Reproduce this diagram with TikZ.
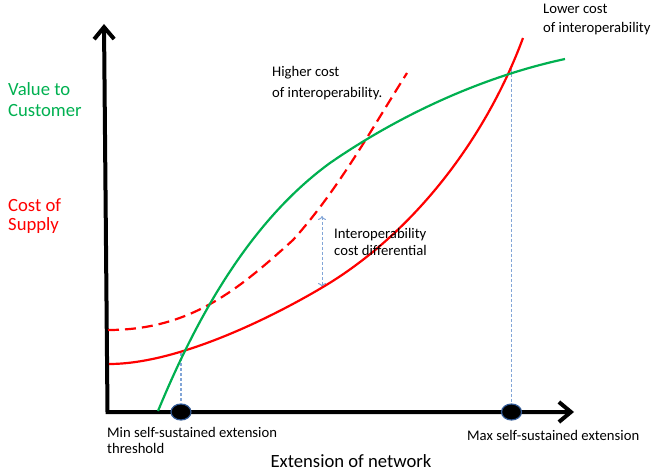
\documentclass[tikz,border=0pt]{standalone}
\usepackage{fontspec}
\setmainfont{Carlito}
\usepackage{tikz}
\definecolor{valgreen}{RGB}{0, 176, 80}
\definecolor{costred}{RGB}{255, 0, 0}
\definecolor{guideblue}{RGB}{130, 165, 215}
\definecolor{dotnavy}{RGB}{50, 90, 150}
\usetikzlibrary{positioning}
\usetikzlibrary{arrows.meta}
\usetikzlibrary{shapes.geometric}

\begin{document}
\begin{tikzpicture}[x=1pt, y=1pt]
[every node/.style={inner sep=0pt}]
\useasboundingbox (0pt, 0pt) rectangle (656pt, -473pt);
% axes
\coordinate (o) at (107.5pt, -412.0pt);
\coordinate (ytip) at (104.0pt, -24.0pt);
\coordinate (xtip) at (574.0pt, -412.0pt);
\draw [line width=4pt, color=black, line join=miter, {Straight Barb[length=12pt, width=20pt]}-{Straight Barb[length=12pt, width=20pt]}] (ytip) -- (o) -- (xtip);
% crossing points
\coordinate (minx) at (181.0pt, -353.0pt);
\coordinate (maxx) at (511.5pt, -69.0pt);
\coordinate (dtop) at (322.0pt, -216.0pt);
\coordinate (dbot) at (322.0pt, -287.0pt);
% guide lines
\node (mindot) [ellipse, minimum width=20pt, minimum height=16pt, inner sep=0pt, fill=black, line width=1.2pt, draw=dotnavy] at (minx |- o) {};
\node (maxdot) [ellipse, minimum width=20pt, minimum height=16pt, inner sep=0pt, fill=black, line width=1.2pt, draw=dotnavy] at (maxx |- o) {};
\draw [line width=1.3pt, color=guideblue, dash pattern=on 3pt off 2pt] (minx) to (mindot);
\draw [line width=1.3pt, color=guideblue, dash pattern=on 3pt off 2pt] (maxx) to (maxdot);
\draw [line width=1pt, color=guideblue, dash pattern=on 3pt off 2pt, {To[length=4pt, width=8pt]}-{To[length=4pt, width=8pt]}] (dtop) to (dbot);
% curves
\draw [line width=2.2pt, color=costred, dash pattern=on 11pt off 6pt] (108pt, -330pt) .. controls (190pt, -330pt) and (238pt, -290pt) .. (293pt, -240pt) .. controls (338pt, -190pt) and (371pt, -130pt) .. (407pt, -73pt);
\draw [line width=2.2pt, color=costred] (109pt, -364pt) .. controls (180pt, -364pt) and (276pt, -315pt) .. (323pt, -287pt) .. controls (414pt, -233pt) and (486pt, -138pt) .. (523pt, -38pt);
\draw [line width=2.2pt, color=valgreen] (158pt, -411pt) .. controls (196pt, -319pt) and (249pt, -222pt) .. (330pt, -163pt) .. controls (398pt, -116pt) and (481pt, -77pt) .. (565pt, -59pt);
% labels
\node (valtxt) [anchor=base west, align=left, inner sep=0pt, font=\fontsize{18.67}{21}\selectfont, text=valgreen] at (8pt, -117pt) {Value to\\Customer};
\node (costtxt) [anchor=base west, align=left, inner sep=0pt, font=\fontsize{18.67}{20}\selectfont, text=costred] at (8pt, -231pt) {Cost of\\Supply};
\node (hightxt) [anchor=base west, align=left, inner sep=0pt, font=\fontsize{14.67}{21}\selectfont] at (272pt, -98pt) {Higher cost\\of interoperability.};
\node (lowtxt) [anchor=base west, align=left, inner sep=0pt, font=\fontsize{14.67}{19}\selectfont] at (543pt, -33pt) {Lower cost\\of interoperability};
\node (difftxt) [anchor=base west, align=left, inner sep=0pt, font=\fontsize{14.67}{17}\selectfont] at (334pt, -255pt) {Interoperability\\cost differential};
\node (mintxt) [anchor=base west, align=left, inner sep=0pt, font=\fontsize{14.67}{16}\selectfont] at (107pt, -453pt) {Min self-sustained extension\\threshold};
\node (maxtxt) [anchor=base west, align=left, inner sep=0pt, font=\fontsize{14.67}{17}\selectfont] at (467pt, -440pt) {Max self-sustained extension};
\node (xtxt) [anchor=base, inner sep=0pt, font=\fontsize{18.67}{21}\selectfont] at (351pt, -467pt) {Extension of network};
\end{tikzpicture}
\end{document}
